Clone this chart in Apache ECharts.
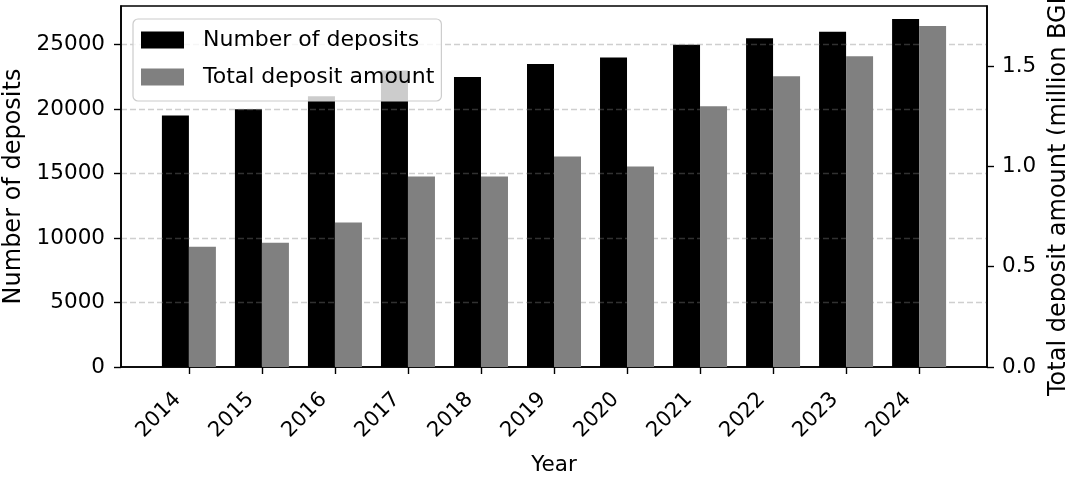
<!DOCTYPE html>
<html>
<head>
<meta charset="utf-8">
<script src="https://cdn.jsdelivr.net/npm/echarts@6/dist/echarts.min.js"></script>
<style>html,body{margin:0;padding:0;background:#fff}#c{width:1065px;height:477px}</style>
</head>
<body>
<div id="c"></div>
<script>
const years = ['2014','2015','2016','2017','2018','2019','2020','2021','2022','2023','2024'];
const depositCounts = [19500, 20000, 21000, 23000, 22500, 23500, 24000, 25000, 25500, 26000, 27000];
const depositAmounts = [0.60, 0.62, 0.72, 0.95, 0.95, 1.05, 1.00, 1.30, 1.45, 1.55, 1.70];
const leftTicks = [0, 5000, 10000, 15000, 20000, 25000];
const rightTicks = [0.0, 0.5, 1.0, 1.5];

const FONT = 'DejaVu Sans';
const chart = echarts.init(document.getElementById('c'), null, {renderer: 'canvas'});
const xIdx = years.map((_, i) => i);
chart.setOption({
  animation: false,
  backgroundColor: '#fff',
  grid: {left: 121, right: 78, top: 6, bottom: 110, containLabel: false, outerBoundsMode: 'none',
    show: true, borderColor: '#000', borderWidth: 1.6, backgroundColor: 'transparent'},
  legend: {
    left: 133, top: 19, orient: 'vertical',
    itemWidth: 43, itemHeight: 17, itemGap: 15,
    padding: [10, 7, 13, 8],
    backgroundColor: 'rgba(255,255,255,0.8)',
    borderColor: '#cccccc', borderWidth: 1.2, borderRadius: 5,
    textStyle: {fontFamily: FONT, fontSize: 22, color: '#000', padding: [0, 0, 0, 14]},
    data: [{name: 'Number of deposits', icon: 'rect'}, {name: 'Total deposit amount', icon: 'rect'}]
  },
  xAxis: {
    type: 'value', min: -0.93, max: 10.93,
    name: 'Year', nameLocation: 'middle', nameGap: 87,
    nameTextStyle: {fontFamily: FONT, fontSize: 21.5, color: '#000'},
    axisLine: {show: true, onZero: false, lineStyle: {color: '#000', width: 1.6}},
    axisTick: {show: true, customValues: xIdx, length: 7, lineStyle: {color: '#000', width: 1.4}},
    axisLabel: {customValues: xIdx, rotate: 45, margin: 18, align: 'right', verticalAlign: 'middle',
      padding: [0, 16, 0, 0], fontFamily: FONT, fontSize: 21, color: '#000',
      formatter: v => years[Math.round(v)]},
    splitLine: {show: false}
  },
  yAxis: [{
    type: 'value', min: 0, max: 28000, z: 3,
    name: 'Number of deposits', nameLocation: 'middle', nameGap: 86,
    nameTextStyle: {fontFamily: FONT, fontSize: 24, color: '#000'},
    axisLine: {show: true, onZero: false, lineStyle: {color: '#000', width: 1.6}},
    axisTick: {show: true, customValues: leftTicks, length: 7, lineStyle: {color: '#000', width: 1.4}},
    axisLabel: {customValues: leftTicks, margin: 16, fontFamily: FONT, fontSize: 21.5, color: '#000',
      formatter: v => String(v)},
    splitLine: {show: false}
  }, {
    type: 'value', min: 0, max: 1.8, position: 'right', z: 3,
    name: 'Total deposit amount (million BGN)', nameLocation: 'middle', nameGap: 46,
    nameTextStyle: {fontFamily: FONT, fontSize: 24, color: '#000'},
    axisLine: {show: true, onZero: false, lineStyle: {color: '#000', width: 1.6}},
    axisTick: {show: true, customValues: rightTicks, length: 7, lineStyle: {color: '#000', width: 1.4}},
    axisLabel: {customValues: rightTicks, margin: 15, fontFamily: FONT, fontSize: 21.5, color: '#000',
      formatter: v => v.toFixed(1)},
    splitLine: {show: false}
  }],
  series: [{
    name: 'Number of deposits', type: 'bar', yAxisIndex: 0,
    barWidth: 27, barGap: '0%',
    itemStyle: {color: '#000000'},
    data: depositCounts.map((v, i) => [i, v]),
    markLine: {
      silent: true, symbol: 'none', label: {show: false}, z: 3,
      lineStyle: {color: 'rgba(128,128,128,0.38)', type: [6, 3], width: 1.3},
      data: leftTicks.filter(t => t > 0).map(t => ({yAxis: t}))
    }
  }, {
    name: 'Total deposit amount', type: 'bar', yAxisIndex: 1,
    barWidth: 27, barGap: '0%',
    itemStyle: {color: '#808080'},
    data: depositAmounts.map((v, i) => [i, v])
  }]
});
</script>
</body>
</html>
